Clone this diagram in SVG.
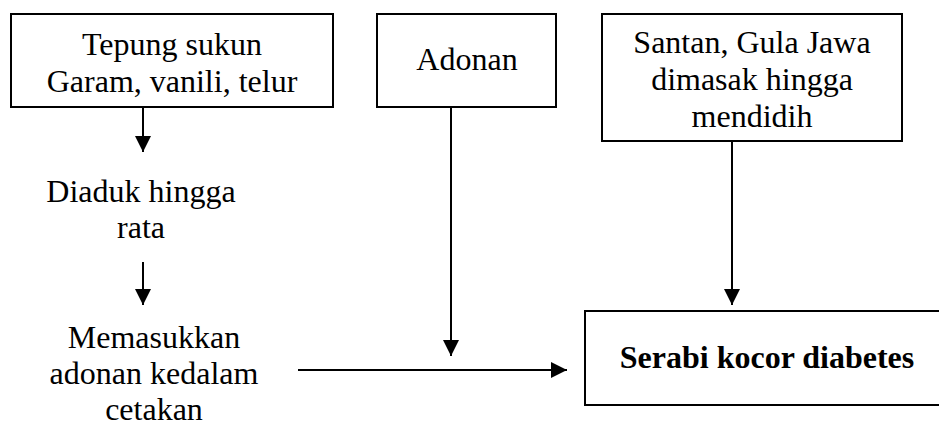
<svg xmlns="http://www.w3.org/2000/svg" width="939" height="427" viewBox="0 0 939 427">
  <style>
    .box { fill: #fff; stroke: #000; stroke-width: 2; }
    .t { font-family: "Liberation Serif", "Times New Roman", serif; font-size: 32px; fill: #000; text-anchor: middle; }
    .b { font-weight: bold; }
    .edge { stroke: #000; stroke-width: 2; fill: none; marker-end: url(#head); }
  </style>
  <defs>
    <marker id="head" markerUnits="userSpaceOnUse" markerWidth="17" markerHeight="17" refX="16" refY="8" orient="auto">
      <path d="M0,0 L16,8 L0,16 Z" fill="#000"/>
    </marker>
  </defs>
  <rect width="939" height="427" fill="#fff"/>

  <g id="bahan">
    <rect class="box" x="11" y="14" width="322" height="93"/>
    <text class="t" x="172" y="55">Tepung sukun</text>
    <text class="t" x="172" y="92">Garam, vanili, telur</text>
  </g>

  <g id="adonan">
    <rect class="box" x="377" y="14" width="179" height="93"/>
    <text class="t" x="467" y="70">Adonan</text>
  </g>

  <g id="santan">
    <rect class="box" x="602" y="14" width="300" height="127"/>
    <text class="t" x="752" y="53">Santan, Gula Jawa</text>
    <text class="t" x="752" y="90">dimasak hingga</text>
    <text class="t" x="752" y="127">mendidih</text>
  </g>

  <g id="diaduk">
    <text class="t" x="141" y="202">Diaduk hingga</text>
    <text class="t" x="141" y="238">rata</text>
  </g>

  <g id="memasukkan">
    <text class="t" x="154" y="348">Memasukkan</text>
    <text class="t" x="154" y="384">adonan kedalam</text>
    <text class="t" x="154" y="420">cetakan</text>
  </g>

  <g id="serabi">
    <rect class="box" x="585" y="311" width="365" height="94"/>
    <text class="t b" x="767" y="368">Serabi kocor diabetes</text>
  </g>

  <g id="connectors">
    <line class="edge" x1="143" y1="107" x2="143" y2="152"/>
    <line class="edge" x1="143" y1="262" x2="143" y2="305"/>
    <line class="edge" x1="451" y1="107" x2="451" y2="356"/>
    <line class="edge" x1="732" y1="141" x2="732" y2="305"/>
    <line class="edge" x1="298" y1="370" x2="567" y2="370"/>
  </g>
</svg>
